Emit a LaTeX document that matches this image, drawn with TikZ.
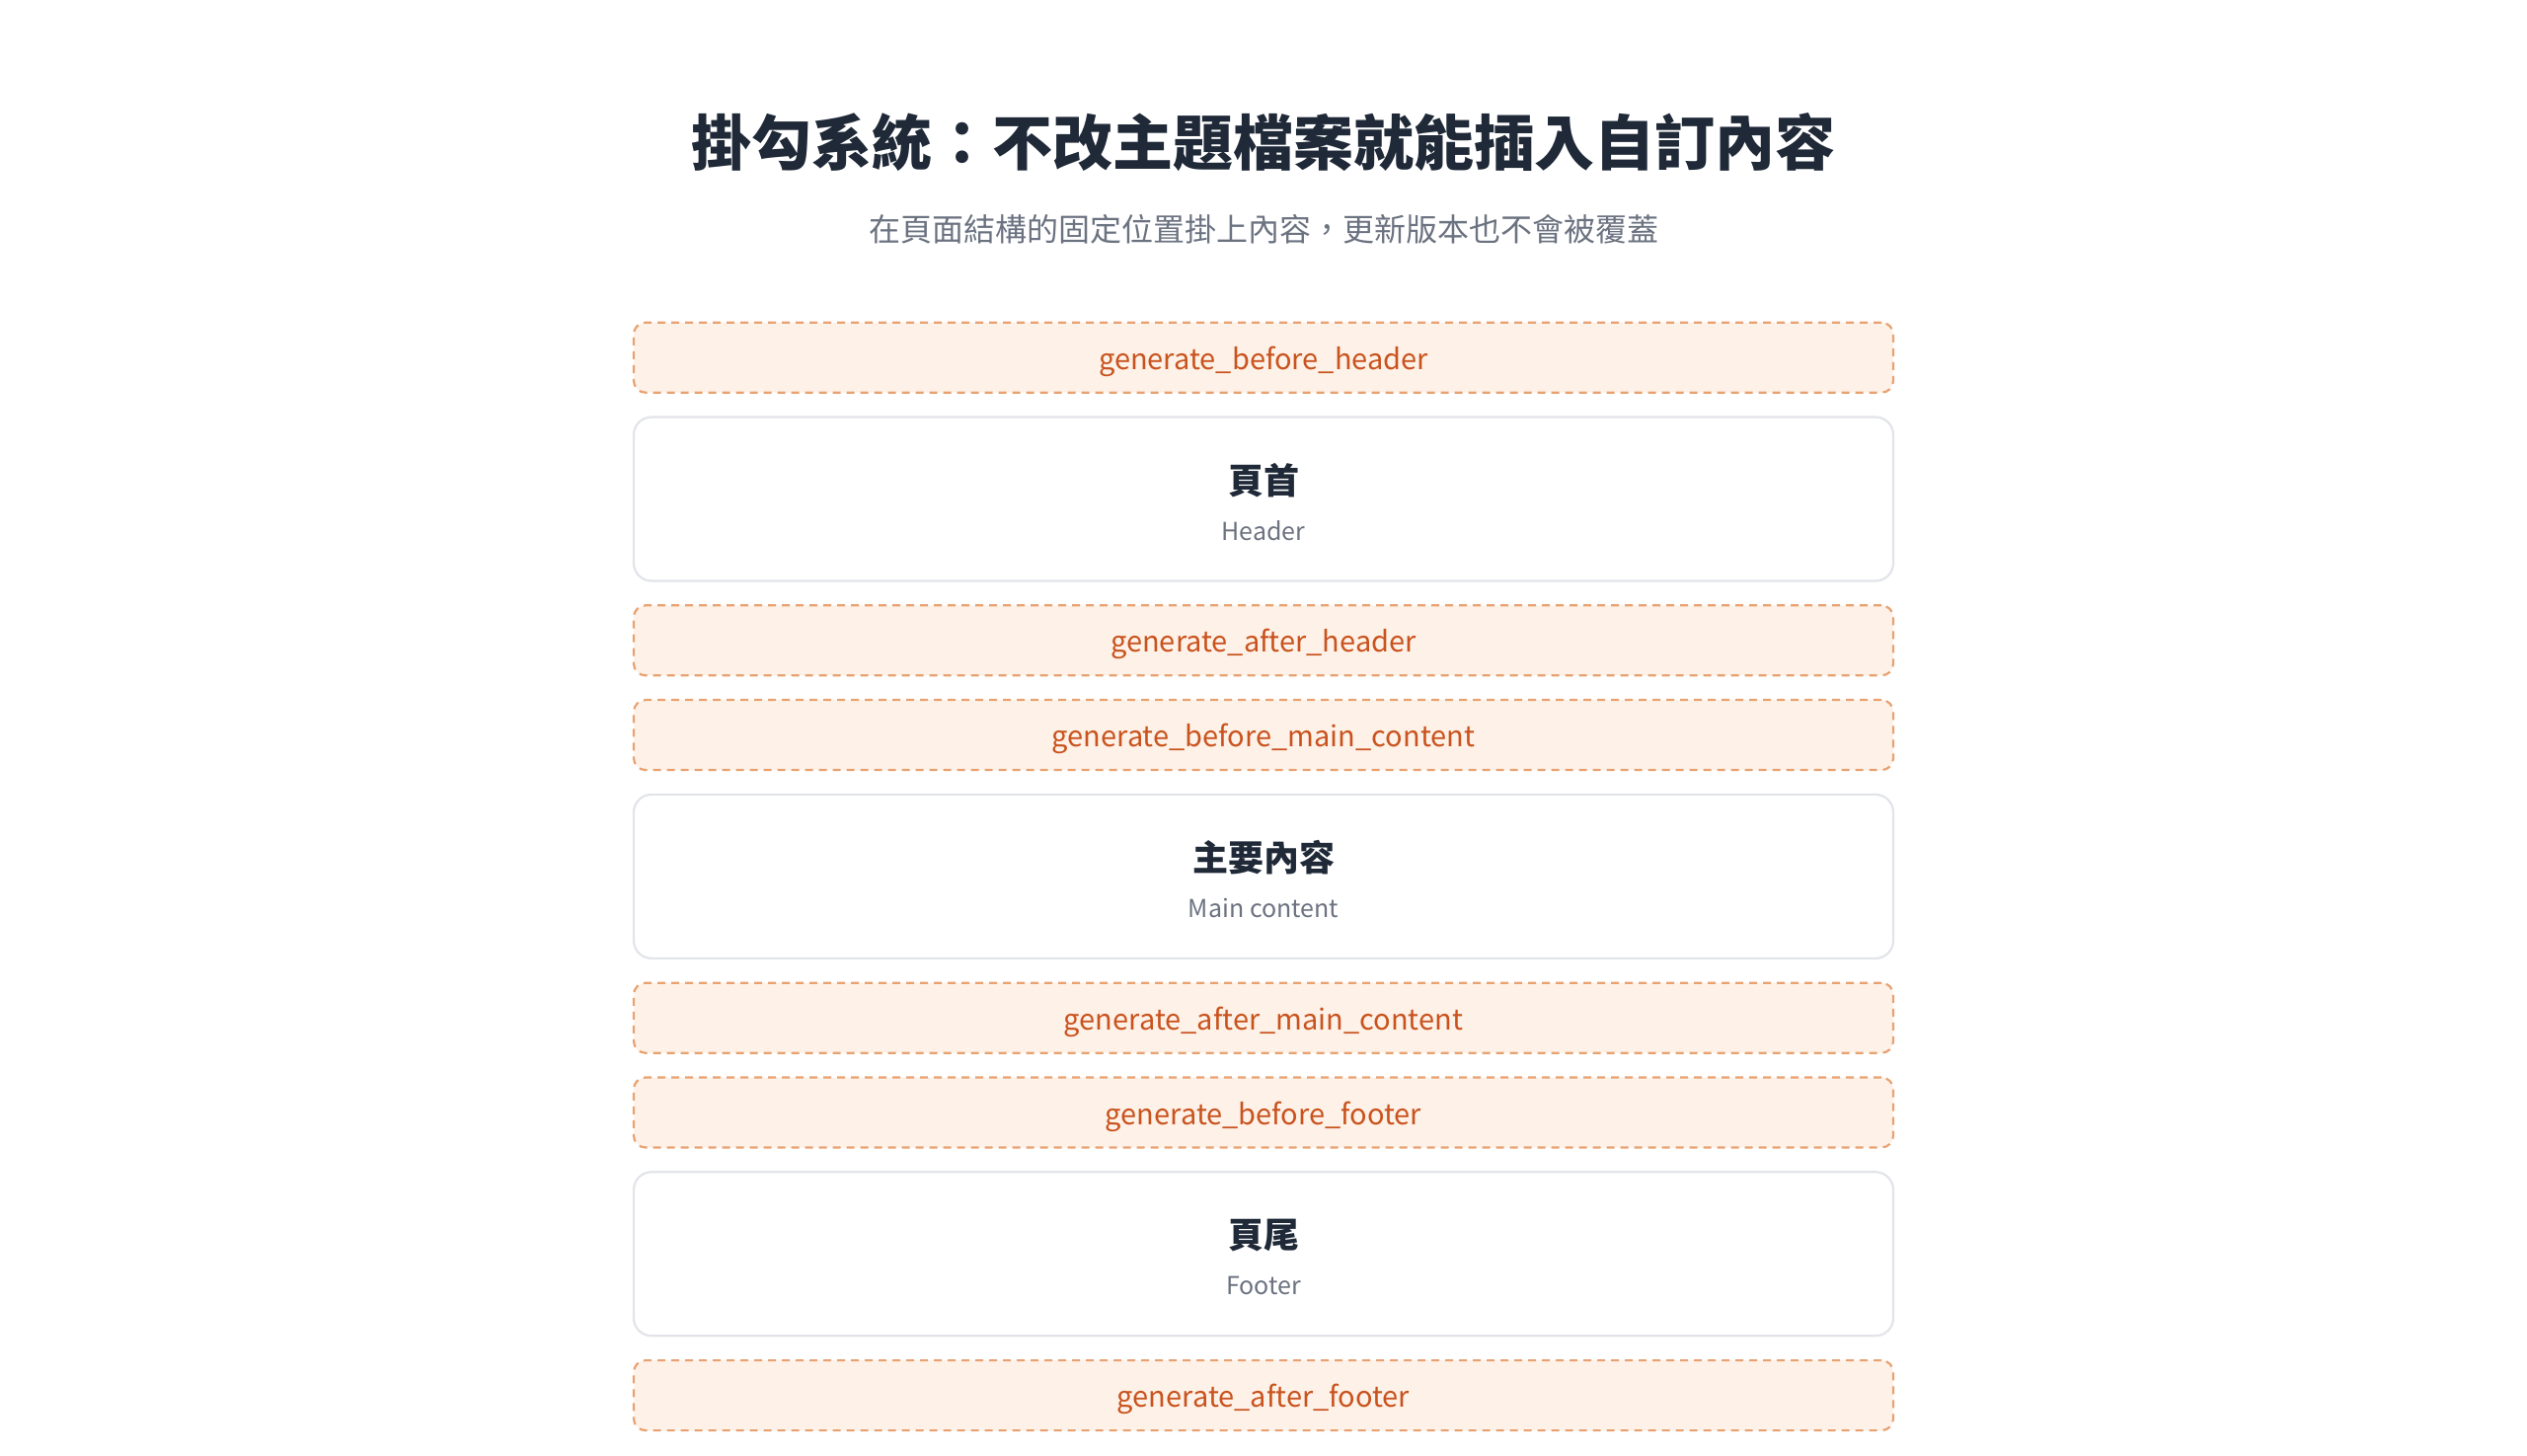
\documentclass[tikz,border=0pt]{standalone}
\usepackage{fontspec}
\setmainfont{Noto Sans CJK TC}
\usetikzlibrary{positioning}

\definecolor{titlegray}{HTML}{1F2937}
\definecolor{subgray}{HTML}{6B7280}
\definecolor{hookfill}{HTML}{FEF1E7}
\definecolor{hookline}{HTML}{E8A272}
\definecolor{hooktext}{HTML}{C9531E}
\definecolor{blockline}{HTML}{E2E4E9}

\tikzset{
  hook/.style={draw=hookline, fill=hookfill, dash pattern=on 4pt off 3pt,
    line width=1.1pt, rounded corners=6pt, minimum width=638pt,
    minimum height=35.5pt, inner sep=0pt, outer sep=0pt, text height=12pt, text depth=0pt,
    text=hooktext, font=\fontsize{14.5}{17}\selectfont},
  block/.style={draw=blockline, fill=white, line width=1.1pt, rounded corners=9pt,
    minimum width=638pt, minimum height=83pt, inner sep=0pt, outer sep=0pt},
  blocktitle/.style={text=titlegray, font=\bfseries\fontsize{18}{20}\selectfont},
  blocksub/.style={text=subgray, font=\fontsize{12.5}{15}\selectfont}
}

\begin{document}
\begin{tikzpicture}[node distance=12.4pt]
    \useasboundingbox (0,0) rectangle (1280pt,737pt);
    \node[text=titlegray, font=\bfseries\fontsize{30.5}{34}\selectfont] (title) at (640pt,665pt)
      {掛勾系統：不改主題檔案就能插入自訂內容};
    \node[text=subgray, font=\fontsize{16}{18}\selectfont] (subtitle) at (640pt,621pt)
      {在頁面結構的固定位置掛上內容，更新版本也不會被覆蓋};

    \node[hook] (beforeheader) at (640pt,555.9pt) {generate\_before\_header};
    \node[block, below=of beforeheader] (header) {};
    \node[hook, below=of header] (afterheader) {generate\_after\_header};
    \node[hook, below=of afterheader] (beforemain) {generate\_before\_main\_content};
    \node[block, below=of beforemain] (main) {};
    \node[hook, below=of main] (aftermain) {generate\_after\_main\_content};
    \node[hook, below=of aftermain] (beforefooter) {generate\_before\_footer};
    \node[block, below=of beforefooter] (footer) {};
    \node[hook, below=of footer] (afterfooter) {generate\_after\_footer};

    \foreach \b/\t/\s in {header/頁首/Header, main/主要內容/Main content, footer/頁尾/Footer}{
      \node[blocktitle] (\b title) at ([yshift=9.5pt]\b.center) {\t};
      \node[blocksub] (\b sub) at ([yshift=-16pt]\b.center) {\s};
    }
\end{tikzpicture}
\end{document}
